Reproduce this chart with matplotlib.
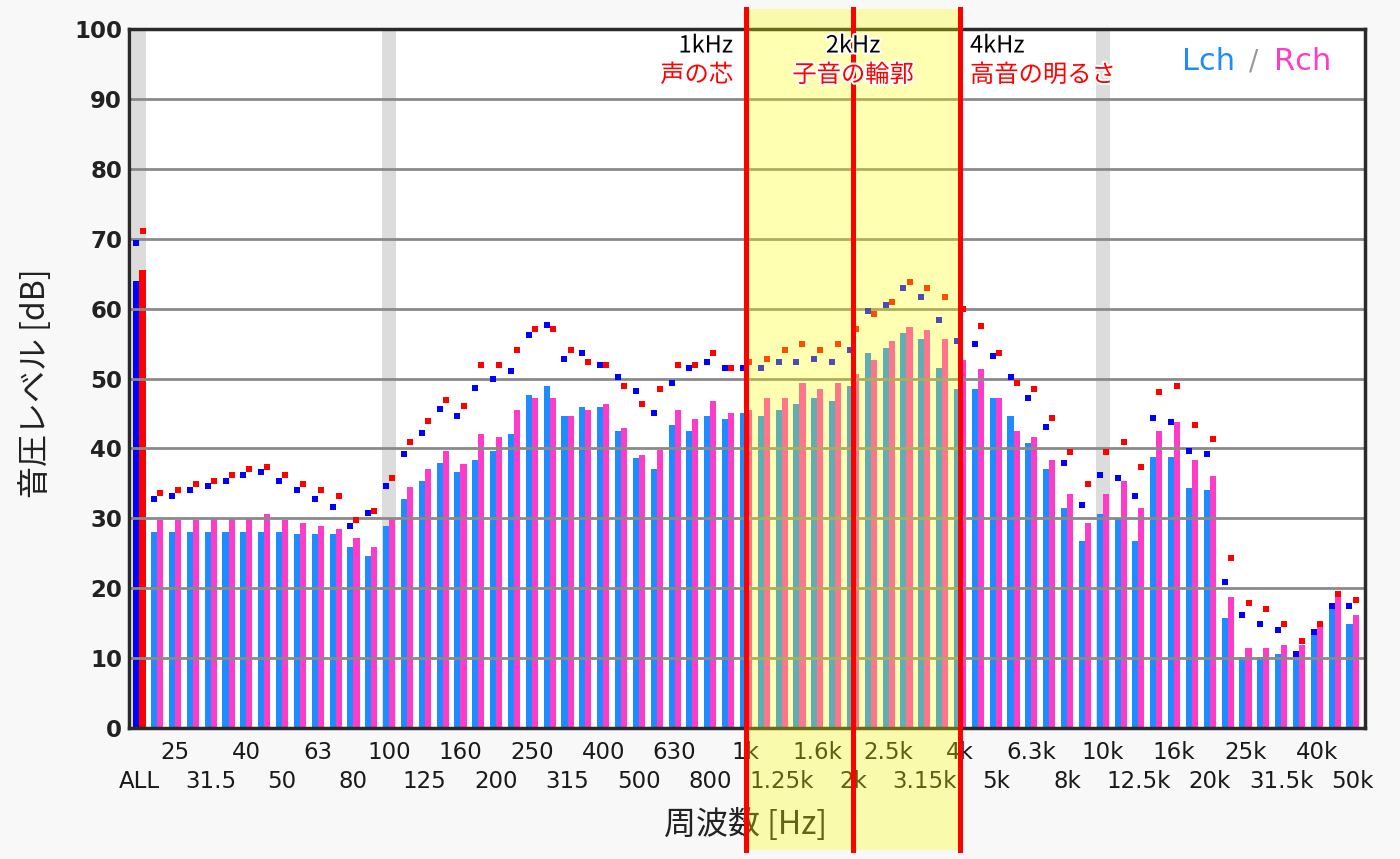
import matplotlib
matplotlib.use('Agg')
import matplotlib.pyplot as plt
import matplotlib.patheffects as pe
import numpy as np

plt.rcParams['font.family'] = ['DejaVu Sans']
JP = ['Noto Sans CJK JP', 'DejaVu Sans']

# 1/3-octave labels (every second 1/6-octave band is labelled)
band_labels = ["ALL", "25", "31.5", "40", "50", "63", "80", "100", "125", "160",
               "200", "250", "315", "400", "500", "630", "800", "1k", "1.25k",
               "1.6k", "2k", "2.5k", "3.15k", "4k", "5k", "6.3k", "8k", "10k",
               "12.5k", "16k", "20k", "25k", "31.5k", "40k", "50k"]

# overall level
all_lch = 63.9
all_rch = 65.5
all_lch_peak = 69.4
all_rch_peak = 71.1

# 1/6-octave band levels (68 bands, from below 25 Hz up to 50 kHz)
lch = [28.0, 28.0, 28.0, 28.0, 28.0, 28.0, 28.0, 28.0, 27.7, 27.7,
       27.7, 25.9, 24.6, 28.9, 32.8, 35.3, 37.9, 36.6, 38.3, 39.6,
       42.1, 47.6, 48.9, 44.7, 45.9, 45.9, 42.5, 38.6, 37.0, 43.4,
       42.5, 44.6, 44.2, 45.1, 44.7, 45.5, 46.4, 47.2, 46.8, 48.9,
       53.6, 54.4, 56.5, 55.7, 51.5, 48.5, 48.5, 47.2, 44.6, 40.8,
       37.0, 31.5, 26.8, 30.6, 30.1, 26.8, 38.7, 38.7, 34.4, 34.1,
       15.7, 10.1, 10.1, 10.6, 10.6, 14.0, 17.9, 14.9]
rch = [29.8, 29.8, 29.8, 30.1, 30.1, 30.1, 30.6, 29.8, 29.3, 28.9,
       28.5, 27.2, 25.9, 30.1, 34.5, 37.0, 39.6, 37.8, 42.1, 41.6,
       45.5, 47.2, 47.2, 44.7, 45.5, 46.3, 42.9, 39.1, 39.8, 45.5,
       44.2, 46.8, 45.1, 45.5, 47.2, 47.2, 49.3, 48.5, 49.3, 50.6,
       52.7, 55.3, 57.4, 57.0, 55.7, 52.7, 51.4, 47.2, 42.5, 41.6,
       38.3, 33.5, 29.3, 33.5, 35.3, 31.5, 42.5, 43.8, 38.3, 36.1,
       18.7, 11.4, 11.4, 11.9, 11.9, 14.5, 19.1, 16.2]
lch_peak = [32.8, 33.2, 34.1, 34.6, 35.4, 36.2, 36.6, 35.4, 34.1, 32.8,
            31.6, 28.9, 30.7, 34.6, 39.2, 42.2, 45.6, 44.7, 48.6, 49.9,
            51.1, 56.2, 57.6, 52.8, 53.7, 52.0, 50.2, 48.2, 45.1, 49.4,
            51.5, 52.4, 51.5, 51.5, 51.5, 52.4, 52.4, 52.8, 52.4, 54.1,
            59.6, 60.5, 63.0, 61.7, 58.4, 55.3, 55.0, 53.2, 50.2, 47.2,
            43.0, 37.9, 31.9, 36.2, 35.8, 33.2, 44.3, 43.8, 39.6, 39.2,
            20.9, 16.2, 14.9, 14.0, 10.6, 13.7, 17.5, 17.5]
rch_peak = [33.6, 34.1, 34.9, 35.4, 36.2, 37.1, 37.4, 36.2, 34.9, 34.1,
            33.2, 29.8, 31.1, 35.8, 40.9, 43.9, 46.9, 46.0, 52.0, 52.0,
            54.1, 57.1, 57.1, 54.1, 52.4, 52.0, 48.9, 46.4, 48.5, 52.0,
            52.0, 53.7, 51.5, 52.3, 52.8, 54.1, 55.0, 54.1, 55.0, 57.1,
            59.2, 60.9, 63.8, 63.0, 61.7, 60.0, 57.5, 53.7, 49.4, 48.5,
            44.3, 39.5, 34.9, 39.5, 40.9, 37.4, 48.1, 48.9, 43.4, 41.3,
            24.3, 17.9, 17.0, 14.9, 12.4, 14.9, 19.2, 18.3]

highlight_bands = ["ALL", "100", "10k"]
split_bands = ["1k", "2k", "4k"]
split_notes = ["声の芯", "子音の輪郭", "高音の明るさ"]

C_L = '#1e8cff'
C_R = '#ff3cc8'

W, H = 1400, 859
fig = plt.figure(figsize=(W / 100, H / 100), dpi=100, facecolor='#f8f8f8')
ax = fig.add_axes([129 / W, 1 - 728 / H, (1365 - 129) / W, (728 - 29) / H])
ax.set_facecolor('white')

pos = {lab: 2 * i for i, lab in enumerate(band_labels)}
k = np.arange(1, len(lch) + 1)

# light gray marker columns
for lab in highlight_bands:
    p = pos[lab]
    ax.axvspan(p - 0.4, p + 0.4, color='#dcdcdc', lw=0, zorder=0.5)

# bars
bw = 0.34
ax.bar(k - 0.17, lch, width=bw, color=C_L, lw=0, zorder=1)
ax.bar(k + 0.17, rch, width=bw, color=C_R, lw=0, zorder=1)
ax.bar([-0.19], [all_lch], width=0.38, color='#0000ff', lw=0, zorder=1)
ax.bar([0.19], [all_rch], width=0.38, color='#ff0000', lw=0, zorder=1)

# peak dots
ax.plot(k - 0.17, lch_peak, 's', color='#0000ff', ms=4.3, mew=0, zorder=3)
ax.plot(k + 0.17, rch_peak, 's', color='#ff0000', ms=4.3, mew=0, zorder=3)
ax.plot([-0.19], [all_lch_peak], 's', color='#0000ff', ms=4.3, mew=0, zorder=3)
ax.plot([0.19], [all_rch_peak], 's', color='#ff0000', ms=4.3, mew=0, zorder=3)

ax.set_xlim(-0.58, 68.7)
ax.set_ylim(0, 100)

# y axis
ax.set_yticks(np.arange(0, 101, 10))
ax.tick_params(axis='y', length=0, pad=5, labelsize=16.5, labelcolor='#222222')
for t in ax.get_yticklabels():
    t.set_fontweight('bold')
ax.yaxis.grid(True, color='#8a8a8a', lw=2)

# x axis: two rows of labels
top_pos = [pos[l] for l in band_labels if pos[l] % 4 == 2]
top_lab = [l for l in band_labels if pos[l] % 4 == 2]
bot_pos = [pos[l] for l in band_labels if pos[l] % 4 == 0]
bot_lab = [l for l in band_labels if pos[l] % 4 == 0]
ax.set_xticks(top_pos)
ax.set_xticklabels(top_lab)
ax.set_xticks(bot_pos, minor=True)
ax.set_xticklabels(bot_lab, minor=True)
ax.tick_params(axis='x', which='major', length=0, pad=9.5, labelsize=16.5, labelcolor='#1a1a1a')
ax.tick_params(axis='x', which='minor', length=0, pad=30.5, labelsize=16.5, labelcolor='#1a1a1a')

for s in ax.spines.values():
    s.set_color('#2a2a2a')
    s.set_linewidth(2.5)

# yellow band 1k-4k and red split lines (extend beyond the plot)
y0 = (728 - 850) / (728 - 29)
y1 = (728 - 9) / (728 - 29)
band = ax.axvspan(pos["1k"], pos["4k"], ymin=y0, ymax=y1, color='#ffff00', alpha=0.3, lw=0, zorder=5)
band.set_clip_on(False)
for lab in split_bands:
    ln = ax.axvline(pos[lab], ymin=y0, ymax=y1, color='#ff0000', lw=3.6, zorder=6)
    ln.set_clip_on(False)

def F(x, y):
    return x / W, 1 - y / H

stroke = [pe.withStroke(linewidth=3, foreground='white')]
ann = [(733, 'right'), (853, 'center'), (970, 'left')]
for (x, ha), lab, note in zip(ann, split_bands, split_notes):
    ax.text(*F(x, 46), lab + "Hz", transform=fig.transFigure, ha=ha, va='center',
            fontsize=17, family=JP, color='black', zorder=10, path_effects=stroke)
    ax.text(*F(x, 75), note, transform=fig.transFigure, ha=ha, va='center',
            fontsize=17.5, family=JP, color='#ff0000', zorder=10, path_effects=stroke)

# channel legend
ax.text(*F(1182, 62), "Lch", transform=fig.transFigure, ha='left', va='center',
        fontsize=22, color=C_L, zorder=10)
ax.text(*F(1254, 62), "/", transform=fig.transFigure, ha='center', va='center',
        fontsize=20, color='#999999', zorder=10)
ax.text(*F(1274, 62), "Rch", transform=fig.transFigure, ha='left', va='center',
        fontsize=22, color=C_R, zorder=10)

# axis titles
ax.text(*F(36, 383), "音圧レベル [dB]", transform=fig.transFigure, rotation=90,
        ha='center', va='center', fontsize=23, family=JP, color='#222222')
ax.text(*F(746, 825), "周波数 [Hz]", transform=fig.transFigure, ha='center', va='center',
        fontsize=23, family=JP, color='#222222', zorder=1)

fig.savefig('out.png', dpi=100, facecolor=fig.get_facecolor())
